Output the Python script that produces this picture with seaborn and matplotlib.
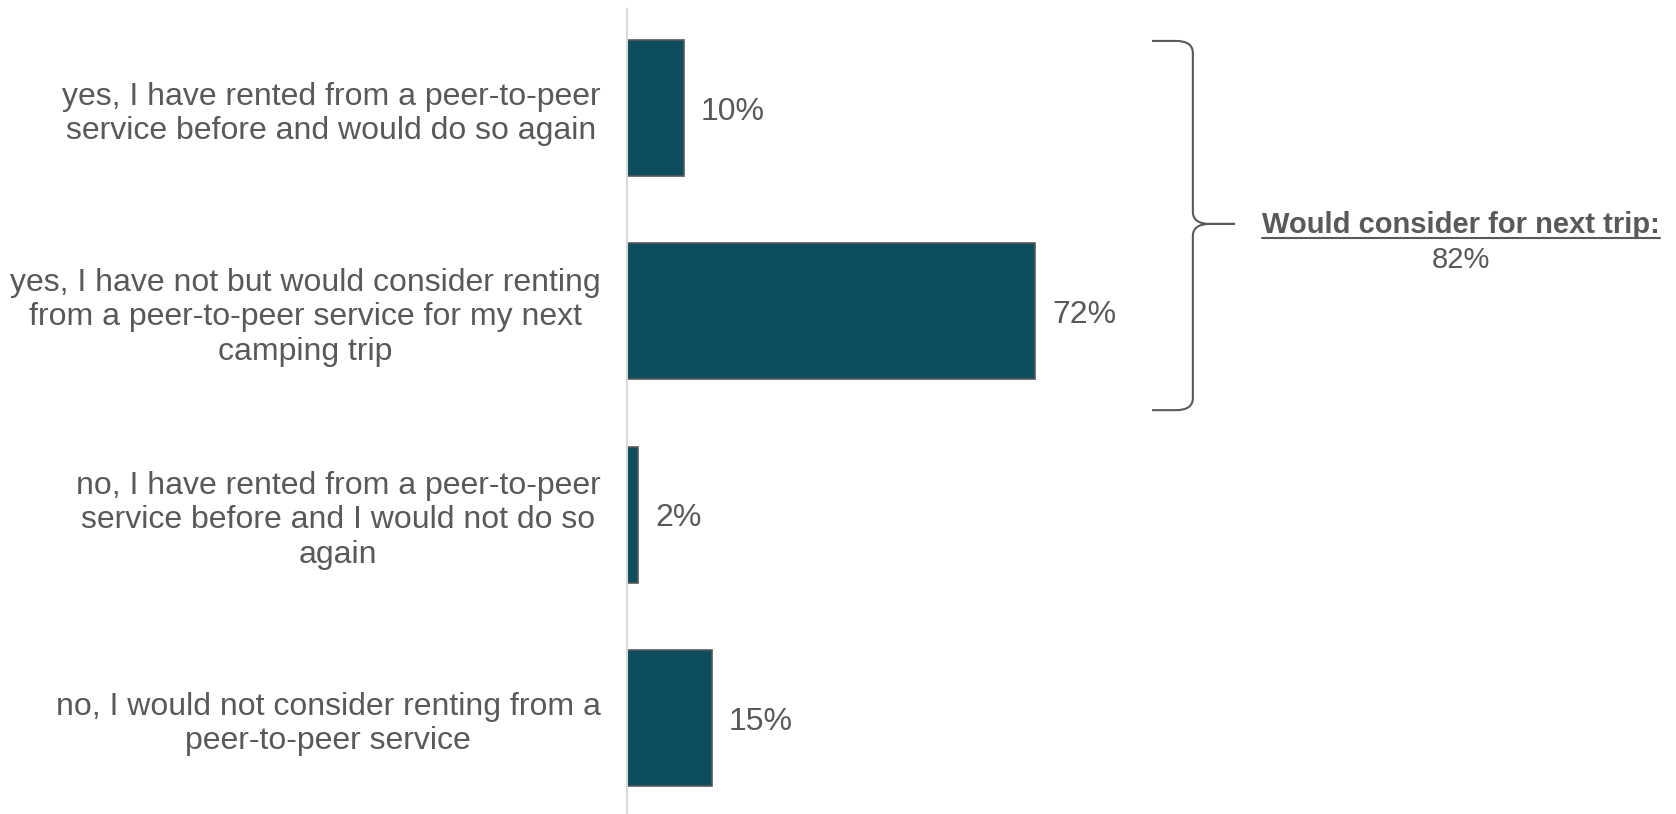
import matplotlib
matplotlib.use("Agg")
import matplotlib.pyplot as plt
from matplotlib.path import Path
from matplotlib.patches import PathPatch
from matplotlib.lines import Line2D
import seaborn as sns
import pandas as pd

# Survey answers and shares (percent)
answers = [
    "yes, I have rented from a peer-to-peer\nservice before and would do so again",
    "yes, I have not but would consider renting\nfrom a peer-to-peer service for my next\ncamping trip",
    "no, I have rented from a peer-to-peer\nservice before and I would not do so\nagain",
    "no, I would not consider renting from a\npeer-to-peer service",
]
shares = [10, 72, 2, 15]
summary_title = "Would consider for next trip:"
summary_value = 82

BAR = "#0C4D5E"
TEXT = "#595959"

sns.set_theme(style="white")
plt.rcParams["font.family"] = ["Liberation Sans", "DejaVu Sans"]

df = pd.DataFrame({"answer": answers, "share": shares})

W, H = 1676, 814
fig = plt.figure(figsize=(W / 100, H / 100), dpi=100)
ax = fig.add_axes([627 / W, 0, 567 / W, (H - 9) / H])

sns.barplot(data=df, x="share", y="answer", orient="h", color=BAR,
            saturation=1, edgecolor=TEXT, linewidth=1.2, width=0.67, ax=ax)

ax.set_xlim(0, 100)
ax.set_ylim(3.472, -0.487)
ax.set_xlabel("")
ax.set_ylabel("")
ax.set_xticks([])
for side in ("top", "right", "bottom"):
    ax.spines[side].set_visible(False)
ax.spines["left"].set_color("#d9d9d9")
ax.spines["left"].set_linewidth(1.5)

ax.tick_params(axis="y", length=0, pad=19, labelsize=23, labelcolor=TEXT)
for lbl in ax.get_yticklabels():
    lbl.set_multialignment("center")
    lbl.set_linespacing(1.2)

for cont in ax.containers:
    texts = ax.bar_label(cont, labels=[f"{v}%" for v in shares], padding=12,
                         fontsize=23, color=TEXT)
    for t in texts:
        t.set_va("center_baseline")

# Curly brace grouping the two "yes" answers
x0, xv, xt = 92.6, 99.8, 107.2
yt, ym, yb = -0.33, 0.57, 1.486
r = 0.06
verts = [
    (x0, yt), (xv - 3.0, yt), (xv, yt), (xv, yt + r),
    (xv, ym - r), (xv, ym), (xv + 3.0, ym), (xt, ym),
    (xt, ym), (xv + 3.0, ym), (xv, ym), (xv, ym + r),
    (xv, yb - r), (xv, yb), (xv - 3.0, yb), (x0, yb),
]
codes = [
    Path.MOVETO, Path.LINETO, Path.CURVE3, Path.CURVE3,
    Path.LINETO, Path.CURVE3, Path.CURVE3, Path.LINETO,
    Path.MOVETO, Path.LINETO, Path.CURVE3, Path.CURVE3,
    Path.LINETO, Path.CURVE3, Path.CURVE3, Path.LINETO,
]
ax.add_patch(PathPatch(Path(verts, codes), facecolor="none", edgecolor=TEXT,
                       linewidth=1.5, clip_on=False))

# Summary note with underlined heading
cx = 1461 / W
title = fig.text(cx, 1 - 233 / H, summary_title, ha="center", va="baseline",
                 fontsize=21, fontweight="bold", color=TEXT)
fig.text(cx, 1 - 260 / H, f"{summary_value}%", ha="center", va="center",
         fontsize=21, color=TEXT)
fig.canvas.draw()
bb = title.get_window_extent().transformed(fig.transFigure.inverted())
uy = 1 - 238 / H
fig.add_artist(Line2D([bb.x0, bb.x1], [uy, uy], color=TEXT, linewidth=1.5,
                      transform=fig.transFigure))

fig.savefig("out.png", dpi=100)
